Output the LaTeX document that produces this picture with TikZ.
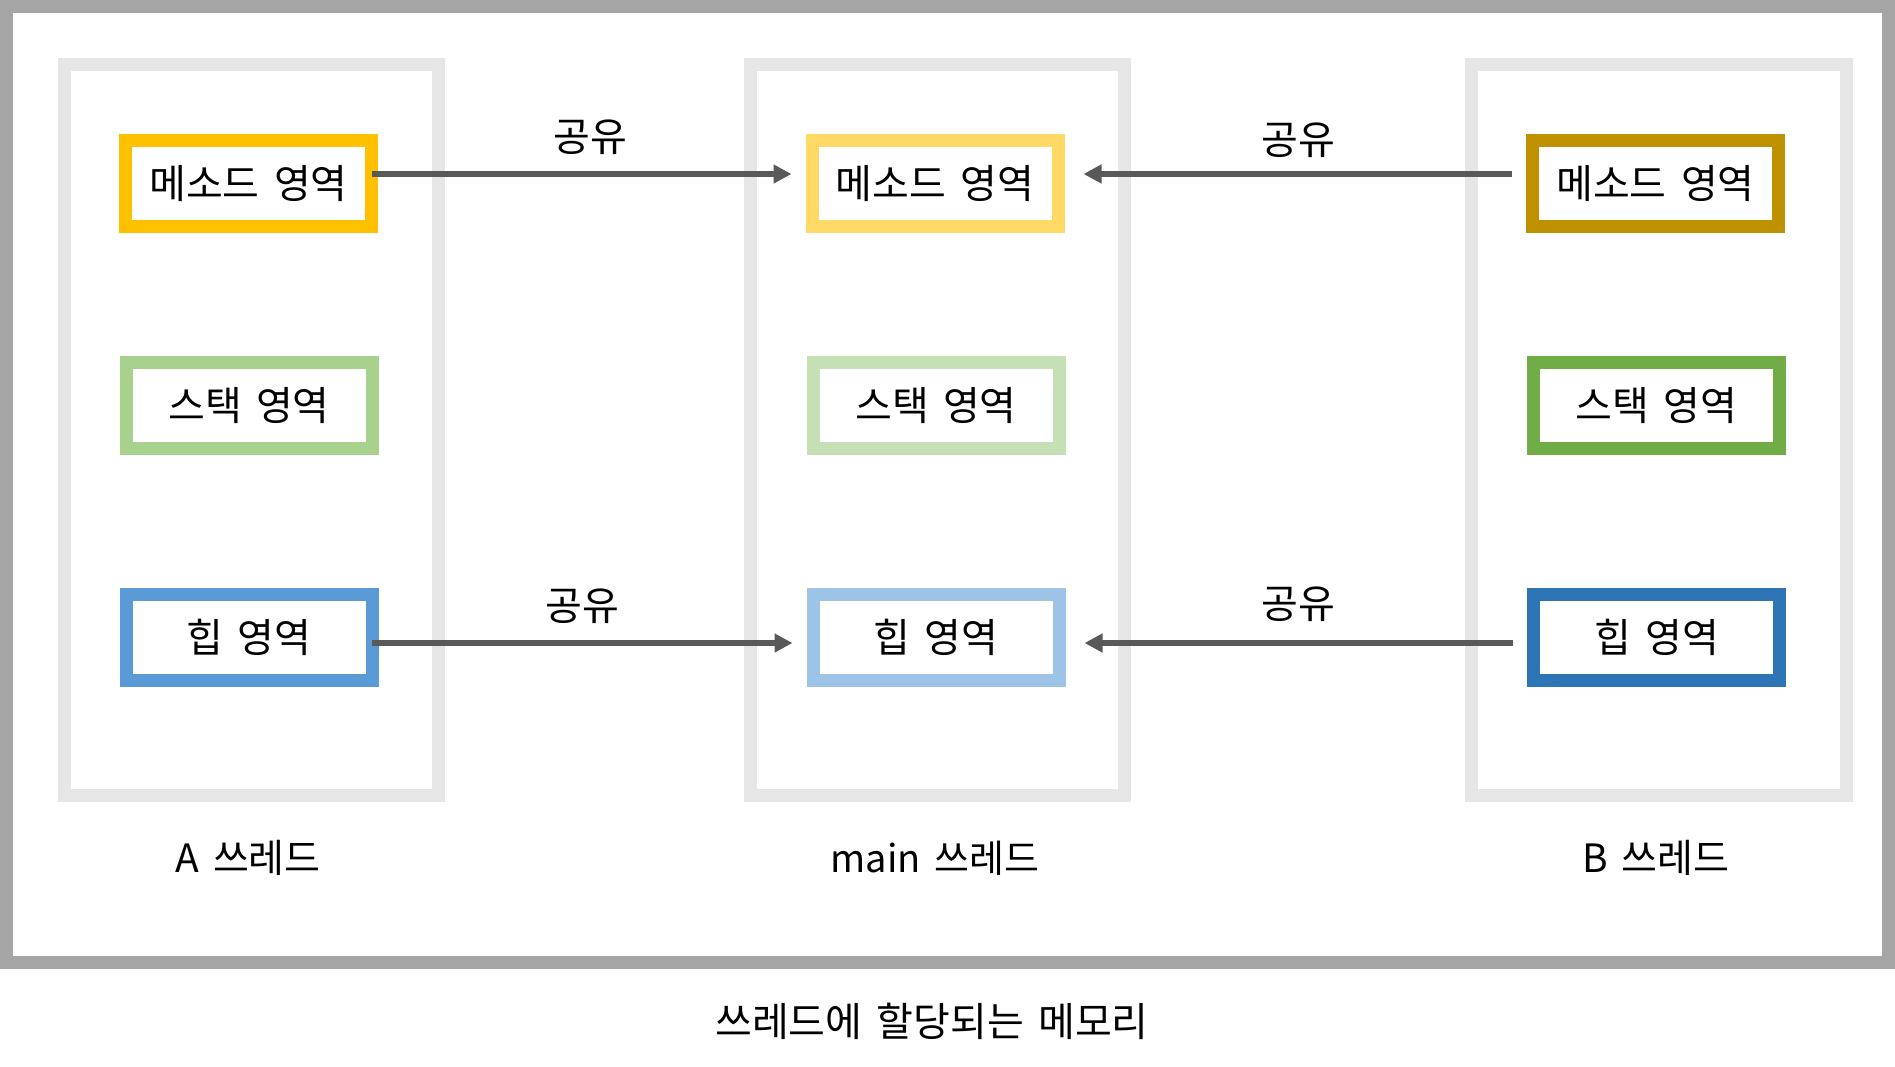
\documentclass[tikz,border=0pt]{standalone}
\usepackage{fontspec}
\setmainfont[WordSpace=1.6]{Noto Sans CJK KR}
\usetikzlibrary{arrows.meta}
\definecolor{framegray}{HTML}{A5A5A5}
\definecolor{panelgray}{HTML}{E7E6E6}
\definecolor{arrgray}{HTML}{595959}
\definecolor{methA}{HTML}{FFC000}
\definecolor{methM}{HTML}{FFD966}
\definecolor{methB}{HTML}{BF9000}
\definecolor{stackA}{HTML}{A9D18E}
\definecolor{stackM}{HTML}{C5E0B4}
\definecolor{stackB}{HTML}{70AD47}
\definecolor{heapA}{HTML}{5B9BD5}
\definecolor{heapM}{HTML}{9DC3E6}
\definecolor{heapB}{HTML}{2E75B6}
\tikzset{
  areabox/.style={draw=#1, line width=6.5pt, fill=white, minimum width=123pt, minimum height=43pt,
    inner sep=0pt, outer sep=0pt, font=\fontsize{20}{24}\selectfont},
  panelbox/.style={draw=panelgray, line width=6.5pt},
  sharearrow/.style={draw=arrgray, line width=3pt, -{Triangle[length=9pt,width=9pt]}},
  sharelabel/.style={font=\fontsize{20}{24}\selectfont, inner sep=0pt},
  threadlabel/.style={font=\fontsize{19.5}{24}\selectfont, inner sep=0pt},
}
\begin{document}
\begin{tikzpicture}[x=0.5pt, y=-0.5pt]
\useasboundingbox (0,0) rectangle (1895,1066);
% outer frame
\draw[framegray, line width=6.5pt] (6.5,6.5) rectangle (1888.5,962.5);
% thread panels
\draw[panelbox] (64.5,64.5) rectangle (438.5,795.5);
\draw[panelbox] (750.5,64.5) rectangle (1124.5,795.5);
\draw[panelbox] (1471.5,64.5) rectangle (1846.5,795.5);
% area boxes
\node[areabox=methA] (am) at (248.5,183.5) {메소드 영역};
\node[areabox=methM] (mm) at (935,183.5) {메소드 영역};
\node[areabox=methB] (bm) at (1655.5,183.5) {메소드 영역};
\node[areabox=stackA] (as) at (249,405.5) {스택 영역};
\node[areabox=stackM] (ms) at (936,405.5) {스택 영역};
\node[areabox=stackB] (bs) at (1656.5,405.5) {스택 영역};
\node[areabox=heapA] (ah) at (249,637.5) {힙 영역};
\node[areabox=heapM] (mh) at (936,637.5) {힙 영역};
\node[areabox=heapB] (bh) at (1656.5,637.5) {힙 영역};
% arrow levels
\coordinate (ytop) at (0,174);
\coordinate (ybot) at (0,643);
\draw[sharearrow, shorten >=10.25pt] (am.east |- ytop) -- (mm.west |- ytop);
\draw[sharearrow, shorten <=10.25pt, shorten >=12.75pt] (bm.west |- ytop) -- (mm.east |- ytop);
\draw[sharearrow, shorten >=10.25pt] (ah.east |- ybot) -- (mh.west |- ybot);
\draw[sharearrow, shorten <=10.25pt, shorten >=12.75pt] (bh.west |- ybot) -- (mh.east |- ybot);
% share labels
\node[sharelabel] (l1) at (590,137) {공유};
\node[sharelabel] (l2) at (1298,140) {공유};
\node[sharelabel] (l3) at (582,606) {공유};
\node[sharelabel] (l4) at (1298,604) {공유};
% thread labels
\node[threadlabel] (ta) at (248,858) {A 쓰레드};
\node[threadlabel, font=\fontsize{19}{24}\selectfont] (tm) at (935,858) {main 쓰레드};
\node[threadlabel] (tb) at (1656,858) {B 쓰레드};
% caption
\node[font=\fontsize{20}{24}\selectfont, inner sep=0pt] (cap) at (932,1021) {쓰레드에 할당되는 메모리};
\end{tikzpicture}
\end{document}
